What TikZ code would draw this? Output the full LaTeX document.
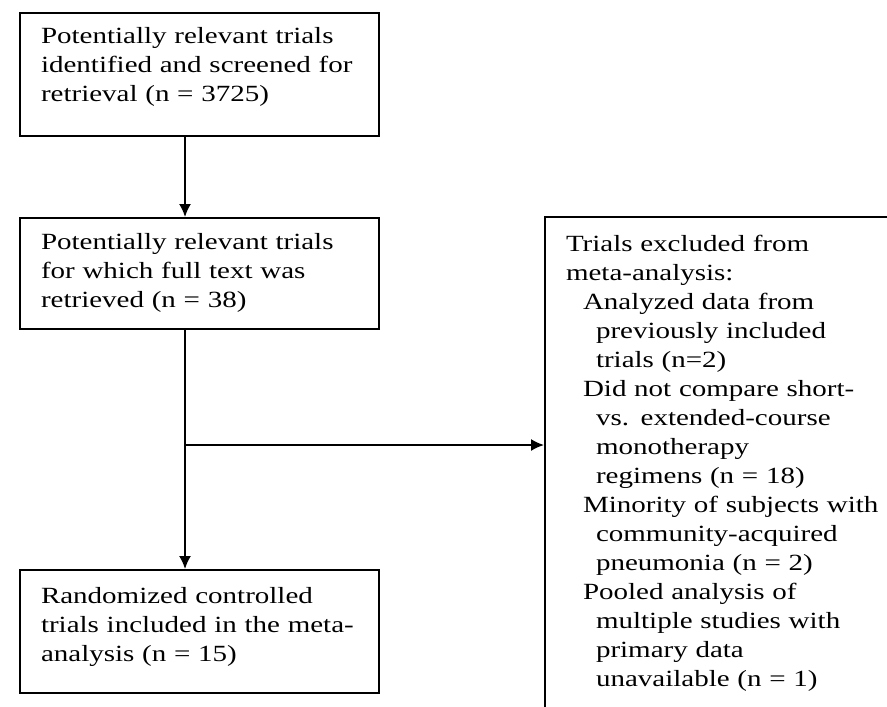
\documentclass[tikz,border=0pt]{standalone}
\usepackage{fontspec}
\setmainfont[FakeStretch=1.25]{Liberation Serif}
\usetikzlibrary{shapes,arrows.meta}

% indents for the list of excluded trials
\newcommand{\lvlone}{\hspace*{8.5pt}}
\newcommand{\lvltwo}{\hspace*{15pt}}

\begin{document}
\begin{tikzpicture}[x=0.5pt,y=-0.5pt,
    box/.style={draw, line width=1pt, align=left, text width=158.5pt,
        inner xsep=10.5pt, inner ysep=0pt,
        font=\fontsize{11.6pt}{14.5pt}\selectfont},
    flow/.style={line width=0.85pt, -{Latex[length=6.5pt,width=6pt]}}]
    % Page size and clipping (the excluded box runs off the page)
    \useasboundingbox (0,0) rectangle (887,706);
    \clip (0,0) rectangle (887,706);

    % Boxes of the main flow:
    \node [box, anchor=north west, text height=15.5pt, text depth=46pt] (screened) at (19,12)
        {Potentially relevant trials\\identified and screened for\\retrieval (n = 3725)};
    \node [box, anchor=north west, text height=15.5pt, text depth=40pt] (retrieved) at (19,217)
        {Potentially relevant trials\\for which full text was\\retrieved (n = 38)};
    \node [box, anchor=north west, text height=16.5pt, text depth=45pt] (included) at (19,569)
        {Randomized controlled\\trials included in the meta-\\analysis (n = 15)};

    % Box of excluded trials:
    \node [box, anchor=north west, text width=200pt, text height=17pt, text depth=240pt] (excluded) at (544,216)
        {Trials excluded from\\meta-analysis:\\
        \lvlone Analyzed data from\\\lvltwo previously included\\\lvltwo trials (n=2)\\
        \lvlone Did not compare short-\\\lvltwo vs. extended-course\\\lvltwo monotherapy\\\lvltwo regimens (n = 18)\\
        \lvlone Minority of subjects with\\\lvltwo community-acquired\\\lvltwo pneumonia (n = 2)\\
        \lvlone Pooled analysis of\\\lvltwo multiple studies with\\\lvltwo primary data\\\lvltwo unavailable (n = 1)};

    % Connectors:
    \coordinate (split) at (185,445);
    \draw [flow] (screened.south -| split) -- (retrieved.north -| split);
    \draw [flow] (retrieved.south -| split) -- (included.north -| split);
    \draw [flow] (split) -- (split -| excluded.west);
\end{tikzpicture}
\end{document}
